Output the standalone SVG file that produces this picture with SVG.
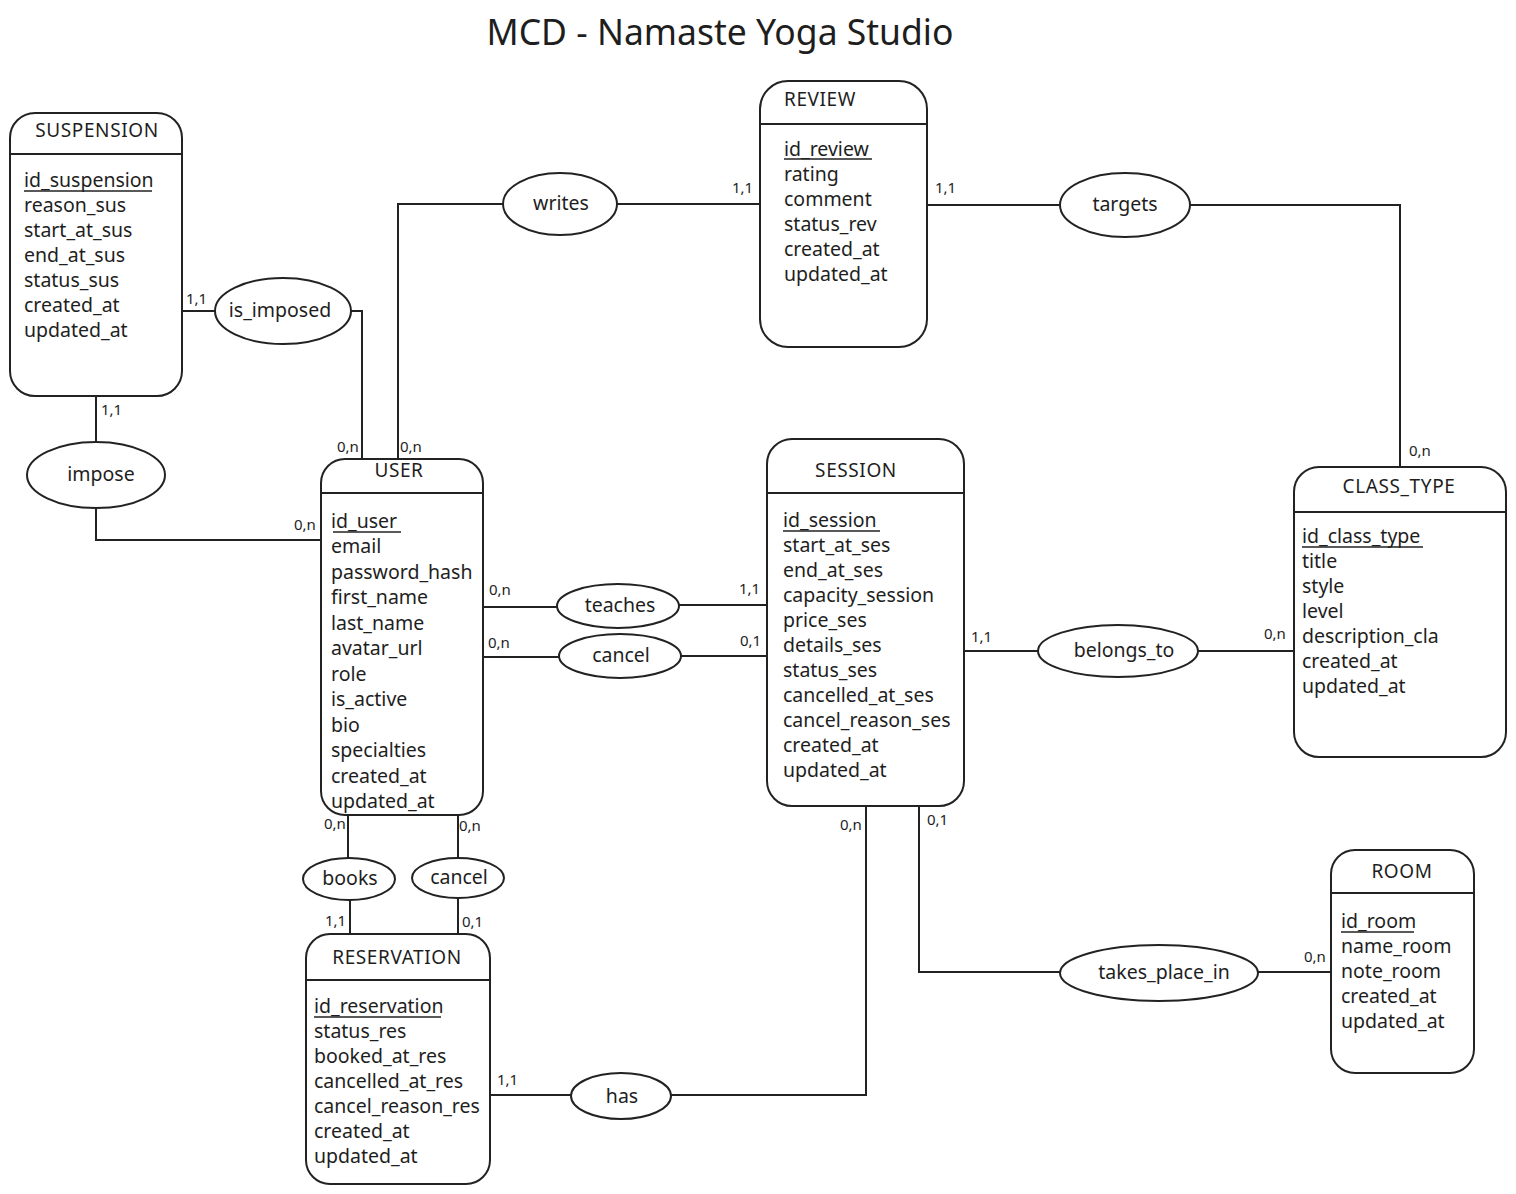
<svg xmlns="http://www.w3.org/2000/svg" width="1516" height="1194" viewBox="0 0 1516 1194">
<style>
.ent{fill:#fff;stroke:#222;stroke-width:2}
.sep{stroke:#222;stroke-width:2}
.rel{fill:#fff;stroke:#222;stroke-width:2}
.con{fill:none;stroke:#222;stroke-width:2}
.ul{stroke:#222;stroke-width:1.6}
text{font-family:"Noto Sans","Open Sans","DejaVu Sans",sans-serif;fill:#1e1e1e}
.t{font-size:19px;letter-spacing:0.6px}
.a{font-size:19.5px}
.r{font-size:19.5px;text-anchor:middle}
.c{font-size:15px}
.h{font-size:35.5px;text-anchor:middle}
</style>
<rect width="1516" height="1194" fill="#fff"/>
<text class="h" x="720" y="45">MCD - Namaste Yoga Studio</text>

<g id="connectors">
<path class="con" d="M182 311 H215"/>
<path class="con" d="M351 311 H362 V459"/>
<path class="con" d="M96 396 V442"/>
<path class="con" d="M96 508 V540 H321"/>
<path class="con" d="M398 459 V204 H504"/>
<path class="con" d="M617 204 H760"/>
<path class="con" d="M927 205 H1060"/>
<path class="con" d="M1189 205 H1400 V467"/>
<path class="con" d="M483 607 H557"/>
<path class="con" d="M679 605 H767"/>
<path class="con" d="M483 657 H559"/>
<path class="con" d="M680 656 H767"/>
<path class="con" d="M964 651 H1038"/>
<path class="con" d="M1198 651 H1294"/>
<path class="con" d="M348 815 V858"/>
<path class="con" d="M350 900 V934"/>
<path class="con" d="M458 815 V858"/>
<path class="con" d="M458 898 V934"/>
<path class="con" d="M490 1095 H571"/>
<path class="con" d="M671 1095 H866 V805"/>
<path class="con" d="M919 805 V972 H1060"/>
<path class="con" d="M1258 972 H1331"/>
<text class="c" x="186" y="304">1,1</text>
<text class="c" x="101" y="415">1,1</text>
<text class="c" x="337" y="452">0,n</text>
<text class="c" x="400" y="452">0,n</text>
<text class="c" x="294" y="530">0,n</text>
<text class="c" x="732" y="193">1,1</text>
<text class="c" x="935" y="193">1,1</text>
<text class="c" x="1409" y="456">0,n</text>
<text class="c" x="489" y="595">0,n</text>
<text class="c" x="739" y="594">1,1</text>
<text class="c" x="488" y="648">0,n</text>
<text class="c" x="740" y="646">0,1</text>
<text class="c" x="971" y="642">1,1</text>
<text class="c" x="1264" y="639">0,n</text>
<text class="c" x="324" y="829">0,n</text>
<text class="c" x="459" y="831">0,n</text>
<text class="c" x="325" y="926">1,1</text>
<text class="c" x="462" y="927">0,1</text>
<text class="c" x="840" y="830">0,n</text>
<text class="c" x="927" y="825">0,1</text>
<text class="c" x="497" y="1085">1,1</text>
<text class="c" x="1304" y="962">0,n</text>
</g>

<g id="suspension">
<rect class="ent" x="10" y="113" width="172" height="283" rx="25"/>
<line class="sep" x1="10" y1="154" x2="182" y2="154"/>
<text class="t" x="97" y="137" text-anchor="middle">SUSPENSION</text>
<text class="a" x="24" y="187">id_suspension</text>
<line class="ul" x1="24" y1="191" x2="152" y2="191"/>
<text class="a" x="24" y="212">reason_sus</text>
<text class="a" x="24" y="237">start_at_sus</text>
<text class="a" x="24" y="262">end_at_sus</text>
<text class="a" x="24" y="287">status_sus</text>
<text class="a" x="24" y="312">created_at</text>
<text class="a" x="24" y="337">updated_at</text>
</g>

<g id="review">
<rect class="ent" x="760" y="81" width="167" height="266" rx="28"/>
<line class="sep" x1="760" y1="124" x2="927" y2="124"/>
<text class="t" x="784" y="106">REVIEW</text>
<text class="a" x="784" y="156">id_review</text>
<line class="ul" x1="784" y1="159" x2="872" y2="159"/>
<text class="a" x="784" y="181">rating</text>
<text class="a" x="784" y="206">comment</text>
<text class="a" x="784" y="231">status_rev</text>
<text class="a" x="784" y="256">created_at</text>
<text class="a" x="784" y="281">updated_at</text>
</g>

<g id="user">
<rect class="ent" x="321" y="459" width="162" height="356" rx="24"/>
<line class="sep" x1="321" y1="493" x2="483" y2="493"/>
<text class="t" x="399" y="477" text-anchor="middle">USER</text>
<text class="a" x="331" y="528">id_user</text>
<line class="ul" x1="333" y1="532" x2="401" y2="532"/>
<text class="a" x="331" y="553">email</text>
<text class="a" x="331" y="579">password_hash</text>
<text class="a" x="331" y="604">first_name</text>
<text class="a" x="331" y="630">last_name</text>
<text class="a" x="331" y="655">avatar_url</text>
<text class="a" x="331" y="681">role</text>
<text class="a" x="331" y="706">is_active</text>
<text class="a" x="331" y="732">bio</text>
<text class="a" x="331" y="757">specialties</text>
<text class="a" x="331" y="783">created_at</text>
<text class="a" x="331" y="808">updated_at</text>
</g>

<g id="session">
<rect class="ent" x="767" y="439" width="197" height="367" rx="25"/>
<line class="sep" x1="767" y1="493" x2="964" y2="493"/>
<text class="t" x="856" y="477" text-anchor="middle">SESSION</text>
<text class="a" x="783" y="527">id_session</text>
<line class="ul" x1="783" y1="531" x2="880" y2="531"/>
<text class="a" x="783" y="552">start_at_ses</text>
<text class="a" x="783" y="577">end_at_ses</text>
<text class="a" x="783" y="602">capacity_session</text>
<text class="a" x="783" y="627">price_ses</text>
<text class="a" x="783" y="652">details_ses</text>
<text class="a" x="783" y="677">status_ses</text>
<text class="a" x="783" y="702">cancelled_at_ses</text>
<text class="a" x="783" y="727">cancel_reason_ses</text>
<text class="a" x="783" y="752">created_at</text>
<text class="a" x="783" y="777">updated_at</text>
</g>

<g id="class_type">
<rect class="ent" x="1294" y="467" width="212" height="290" rx="25"/>
<line class="sep" x1="1294" y1="512" x2="1506" y2="512"/>
<text class="t" x="1399" y="493" text-anchor="middle">CLASS_TYPE</text>
<text class="a" x="1302" y="543">id_class_type</text>
<line class="ul" x1="1302" y1="547" x2="1423" y2="547"/>
<text class="a" x="1302" y="568">title</text>
<text class="a" x="1302" y="593">style</text>
<text class="a" x="1302" y="618">level</text>
<text class="a" x="1302" y="643">description_cla</text>
<text class="a" x="1302" y="668">created_at</text>
<text class="a" x="1302" y="693">updated_at</text>
</g>

<g id="room">
<rect class="ent" x="1331" y="850" width="143" height="223" rx="24"/>
<line class="sep" x1="1331" y1="893" x2="1474" y2="893"/>
<text class="t" x="1402" y="878" text-anchor="middle">ROOM</text>
<text class="a" x="1341" y="928">id_room</text>
<line class="ul" x1="1341" y1="932" x2="1414" y2="932"/>
<text class="a" x="1341" y="953">name_room</text>
<text class="a" x="1341" y="978">note_room</text>
<text class="a" x="1341" y="1003">created_at</text>
<text class="a" x="1341" y="1028">updated_at</text>
</g>

<g id="reservation">
<rect class="ent" x="306" y="934" width="184" height="250" rx="24"/>
<line class="sep" x1="306" y1="980" x2="490" y2="980"/>
<text class="t" x="397" y="964" text-anchor="middle">RESERVATION</text>
<text class="a" x="314" y="1013">id_reservation</text>
<line class="ul" x1="314" y1="1017" x2="441" y2="1017"/>
<text class="a" x="314" y="1038">status_res</text>
<text class="a" x="314" y="1063">booked_at_res</text>
<text class="a" x="314" y="1088">cancelled_at_res</text>
<text class="a" x="314" y="1113">cancel_reason_res</text>
<text class="a" x="314" y="1138">created_at</text>
<text class="a" x="314" y="1163">updated_at</text>
</g>

<g id="rel_writes"><ellipse class="rel" cx="560" cy="204" rx="57" ry="31"/><text class="r" x="561" y="210">writes</text></g>
<g id="rel_is_imposed"><ellipse class="rel" cx="283" cy="311" rx="68" ry="33"/><text class="r" x="280" y="317">is_imposed</text></g>
<g id="rel_impose"><ellipse class="rel" cx="96" cy="475" rx="69" ry="33"/><text class="r" x="101" y="481">impose</text></g>
<g id="rel_targets"><ellipse class="rel" cx="1125" cy="205" rx="65" ry="32"/><text class="r" x="1125" y="211">targets</text></g>
<g id="rel_teaches"><ellipse class="rel" cx="618" cy="606" rx="61" ry="22"/><text class="r" x="620" y="612">teaches</text></g>
<g id="rel_cancel_session"><ellipse class="rel" cx="620" cy="656" rx="61" ry="22"/><text class="r" x="621" y="662">cancel</text></g>
<g id="rel_belongs_to"><ellipse class="rel" cx="1118" cy="651" rx="80" ry="26"/><text class="r" x="1124" y="657">belongs_to</text></g>
<g id="rel_books"><ellipse class="rel" cx="349" cy="879" rx="46" ry="21"/><text class="r" x="350" y="885">books</text></g>
<g id="rel_cancel_reservation"><ellipse class="rel" cx="458" cy="878" rx="46" ry="20"/><text class="r" x="459" y="884">cancel</text></g>
<g id="rel_has"><ellipse class="rel" cx="621" cy="1096" rx="50" ry="23"/><text class="r" x="622" y="1103">has</text></g>
<g id="rel_takes_place_in"><ellipse class="rel" cx="1159" cy="973" rx="99" ry="28"/><text class="r" x="1164" y="979">takes_place_in</text></g>
</svg>
